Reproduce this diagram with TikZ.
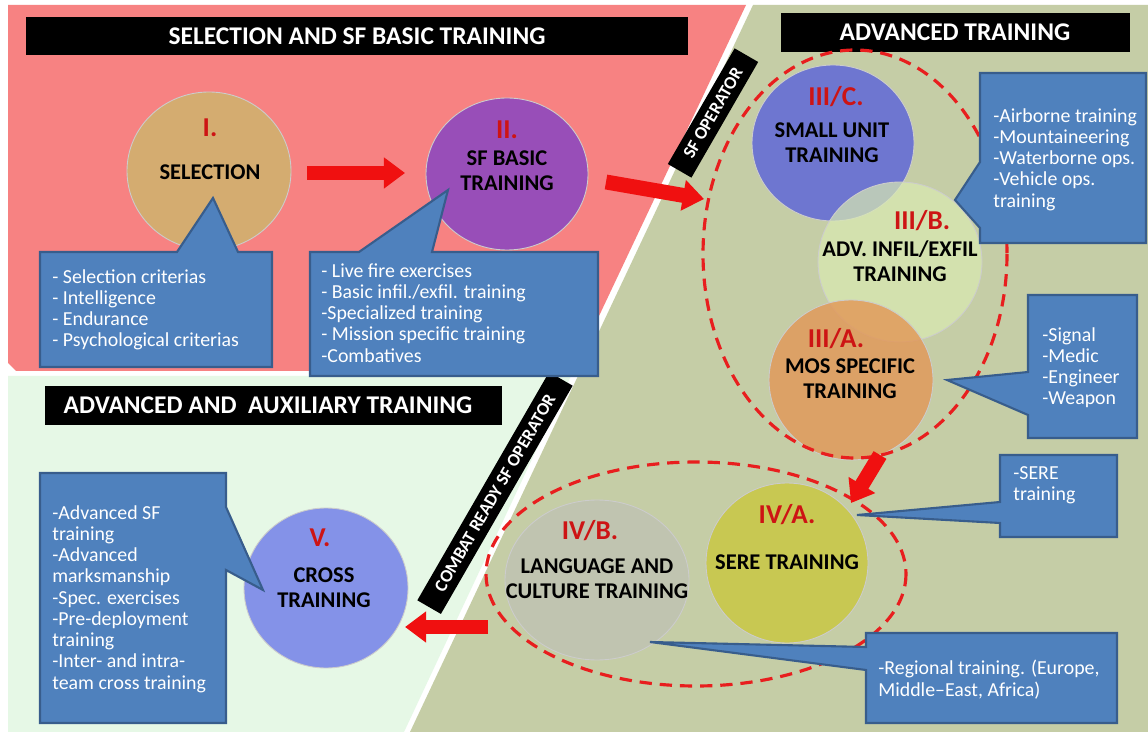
\documentclass[tikz,border=0pt]{standalone}
\usepackage{fontspec}
\setmainfont{Carlito}
\usetikzlibrary{arrows.meta}
\definecolor{pinkbg}{RGB}{247,130,130}
\definecolor{olivebg}{RGB}{197,205,166}
\definecolor{lgreenbg}{RGB}{230,248,230}
\definecolor{callfill}{RGB}{79,129,189}
\definecolor{calldraw}{RGB}{56,93,140}
\definecolor{arrowred}{RGB}{240,16,16}
\definecolor{numred}{RGB}{205,20,20}
\definecolor{dashred}{RGB}{232,30,30}
\definecolor{cSel}{RGB}{212,172,112}
\definecolor{cBasic}{RGB}{152,78,184}
\definecolor{cSmall}{RGB}{110,118,208}
\definecolor{cInfil}{RGB}{218,234,178}
\definecolor{cMos}{RGB}{226,150,86}
\definecolor{cSere}{RGB}{200,200,82}
\definecolor{cLang}{RGB}{192,196,176}
\definecolor{cCross}{RGB}{132,146,232}
\begin{document}
\begin{tikzpicture}[x=0.02cm,y=-0.02cm,
 titletext/.style={text=white,font=\bfseries\fontsize{14.5}{16}\selectfont,inner sep=0pt},
 rotbar/.style={fill=black,text=white,font=\bfseries\fontsize{10.2}{11}\selectfont,rotate=60,inner sep=0pt,minimum height=15.5pt},
 bubble/.style={fill=callfill,draw=calldraw,line width=1.2pt,line join=miter},
 ctext/.style={text=white,font=\fontsize{11.3}{12.1}\selectfont,align=left,anchor=north west,inner sep=0pt},
 numtext/.style={text=numred,font=\bfseries\fontsize{15.5}{17}\selectfont,inner sep=0pt},
 circtext/.style={text=black,font=\bfseries\fontsize{12.8}{14.2}\selectfont,align=center,inner sep=0pt},
 blockarrow/.style={draw=arrowred,line width=8.5pt,-{Triangle[length=12pt,width=17pt]}},
 dashring/.style={draw=dashred,line width=1.8pt,dash pattern=on 7pt off 4.5pt},
 disc/.style={draw=white!80!black,line width=0.5pt}
]
\useasboundingbox (0,0) rectangle (1148,732);
\fill[white] (0,0) rectangle (1148,732);
% backgrounds
\fill[olivebg] (753,5) -- (1148,5) -- (1148,732) -- (410,732) -- cycle;
\fill[pinkbg] (8,5) -- (746,5) -- (573,371) -- (16,371) -- (8,363) -- cycle;
\fill[lgreenbg] (8,376) -- (571,376) -- (404,732) -- (8,732) -- cycle;
% title bars
\fill[black] (26,17) rectangle (688,55);
\node[titletext] (t1) at (357,36) {SELECTION AND SF BASIC TRAINING};
\fill[black] (781,13) rectangle (1130,52);
\node[titletext] (t2) at (955,32) {ADVANCED TRAINING};
\fill[black] (45,386) rectangle (502,425);
\node[titletext] (t3) at (268,405) {ADVANCED AND~ AUXILIARY TRAINING};
% circles
\coordinate (cI) at (209,171);
\coordinate (cII) at (507,174);
\coordinate (cIIIC) at (833,143);
\coordinate (cIIIB) at (900,262);
\coordinate (cIIIA) at (851,380);
\coordinate (cIVA) at (787,563);
\coordinate (cIVB) at (597,580);
\coordinate (cV) at (326,588);
\fill[cSel,disc] (cI) ellipse [x radius=82, y radius=79];
\fill[cBasic,disc] (cII) ellipse [x radius=81, y radius=76];
\fill[cSmall,disc] (cIIIC) ellipse [x radius=81, y radius=78];
\fill[cInfil,fill opacity=0.7,disc] (cIIIB) ellipse [x radius=82, y radius=80];
\fill[cMos,fill opacity=0.8,disc] (cIIIA) ellipse [x radius=82, y radius=80];
\fill[cSere,disc] (cIVA) ellipse [x radius=81, y radius=80];
\fill[cLang,disc] (cIVB) ellipse [x radius=92, y radius=80];
\fill[cCross,disc] (cV) ellipse [x radius=82, y radius=80];
% dashed rings
\draw[dashring] (855,254) ellipse [x radius=152, y radius=204];
\draw[dashring] (696,574) ellipse [x radius=210, y radius=112];
% rotated labels
\node[rotbar,minimum width=76pt] (sfop) at (713,113) {SF OPERATOR};
\node[rotbar,minimum width=150pt] (crop) at (495,493) {COMBAT READY SF OPERATOR};
% callouts
\draw[bubble] (40,252) -- (177,252) -- (213,198) -- (238,252) -- (272,252) -- (272,367) -- (40,367) -- cycle;
\draw[bubble] (310,252) -- (359,252) -- (448,190) -- (432,252) -- (598,252) -- (598,376) -- (310,376) -- cycle;
\draw[bubble] (980,73) -- (1146,73) -- (1146,243) -- (980,243) -- (980,228) -- (955,200) -- (980,162) -- cycle;
\draw[bubble] (1028,295) -- (1137,295) -- (1137,438) -- (1028,438) -- (1028,415) -- (947,380) -- (1028,372) -- cycle;
\draw[bubble] (1000,455) -- (1117,455) -- (1117,537) -- (1000,537) -- (1000,523) -- (857,515) -- (1000,502) -- cycle;
\draw[bubble] (866,633) -- (1117,633) -- (1117,723) -- (866,723) -- (866,670) -- (650,642) -- (866,647) -- cycle;
\draw[bubble] (40,473) -- (226,473) -- (226,507) -- (263,590) -- (226,570) -- (226,723) -- (40,723) -- cycle;
% callout texts
\node[ctext] (b1) at (52,269) {- Selection criterias\\- Intelligence\\- Endurance\\- Psychological criterias};
\node[ctext] (b2) at (321,263) {- Live fire exercises\\- Basic infil./exfil. training\\-Specialized training\\- Mission specific training\\-Combatives};
\node[ctext] (b3) at (993,108) {-Airborne training\\-Mountaineering\\-Waterborne ops.\\-Vehicle ops.\\training};
\node[ctext] (b4) at (1042,327) {-Signal\\-Medic\\-Engineer\\-Weapon};
\node[ctext] (b5) at (1013,466) {-SERE\\training};
\node[ctext] (b6) at (878,660) {-Regional training. (Europe,\\Middle--East, Africa)};
\node[ctext] (b7) at (52,505) {-Advanced SF\\training\\-Advanced\\marksmanship\\-Spec. exercises\\-Pre-deployment\\training\\-Inter- and intra-\\team cross training};
% arrows
\coordinate (a1s) at (307,173); \coordinate (a1e) at (405,173);
\coordinate (a2s) at (606,182); \coordinate (a2e) at (704,199);
\coordinate (a3s) at (880,455); \coordinate (a3e) at (851,503);
\coordinate (a4s) at (488,627); \coordinate (a4e) at (405,627);
\draw[blockarrow] (a1s) -- (a1e);
\draw[blockarrow] (a2s) -- (a2e);
\draw[blockarrow] (a3s) -- (a3e);
\draw[blockarrow] (a4s) -- (a4e);
% circle texts
\node[numtext] (nI) at (210,128) {I.};
\node[circtext] (lI) at (210,172) {SELECTION};
\node[numtext] (nII) at (507,130) {II.};
\node[circtext] (lII) at (507,171) {SF BASIC\\TRAINING};
\node[numtext] (nIIIC) at (836,97) {III/C.};
\node[circtext] (lIIIC) at (832,143) {SMALL UNIT\\TRAINING};
\node[numtext] (nIIIB) at (922,221) {III/B.};
\node[circtext] (lIIIB) at (900,261) {ADV. INFIL/EXFIL\\TRAINING};
\node[numtext] (nIIIA) at (836,339) {III/A.};
\node[circtext] (lIIIA) at (850,379) {MOS SPECIFIC\\TRAINING};
\node[numtext] (nIVA) at (787,515) {IV/A.};
\node[circtext] (lIVA) at (787,562) {SERE TRAINING};
\node[numtext] (nIVB) at (590,531) {IV/B.};
\node[circtext] (lIVB) at (597,579) {LANGUAGE AND\\CULTURE TRAINING};
\node[numtext] (nV) at (320,538) {V.};
\node[circtext] (lV) at (324,588) {CROSS\\TRAINING};
\end{tikzpicture}
\end{document}
